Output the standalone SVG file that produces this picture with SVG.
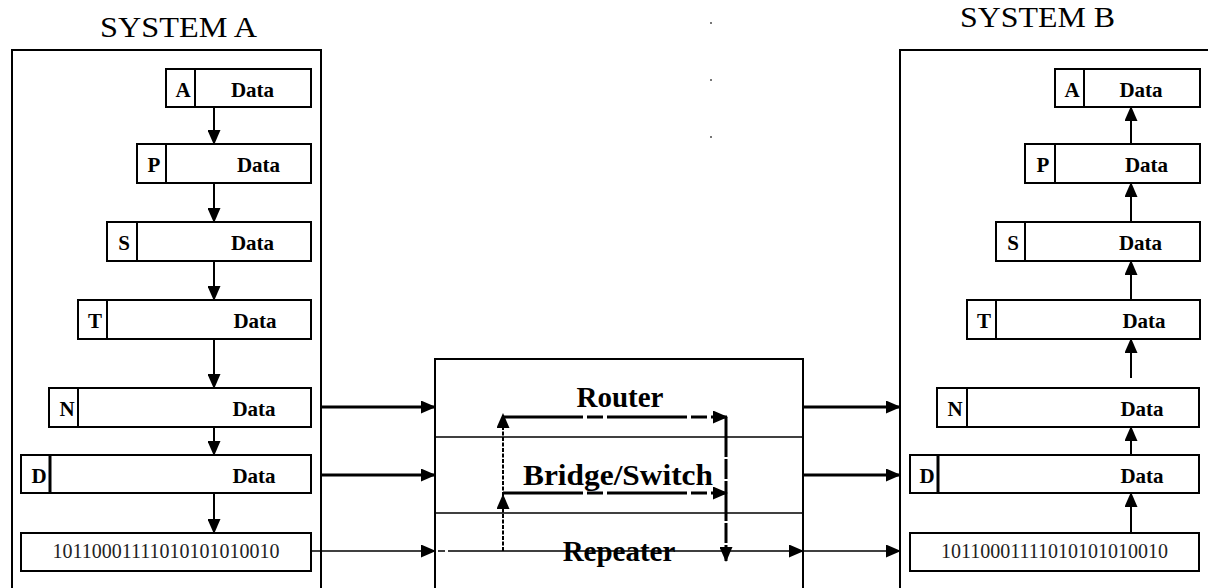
<svg xmlns="http://www.w3.org/2000/svg" width="1208" height="588" viewBox="0 0 1208 588">
<defs>
<marker id="ah" markerUnits="userSpaceOnUse" markerWidth="15" markerHeight="13" refX="14" refY="6.5" orient="auto"><path d="M0,0 L15,6.5 L0,13 z" fill="#000"/></marker>
<style>
.frame{fill:none;stroke:#000;stroke-width:2}
.box{fill:#fff;stroke:#000;stroke-width:2}
.div{stroke:#000;stroke-width:2}
.lbl{font-family:"Liberation Serif","Times New Roman",serif;font-weight:bold;font-size:21px;text-anchor:middle;fill:#000}
.bits{font-family:"Liberation Serif","Times New Roman",serif;font-size:20px;text-anchor:middle;fill:#222}
.title{font-family:"Liberation Serif","Times New Roman",serif;font-size:30px;text-anchor:middle;fill:#000}
.dev{font-family:"Liberation Serif","Times New Roman",serif;font-weight:bold;font-size:29px;text-anchor:middle;fill:#000}
.arr{stroke:#000;stroke-width:2;fill:none;marker-end:url(#ah)}
.thick{stroke:#000;stroke-width:3;fill:none;marker-end:url(#ah)}
.thin{stroke:#000;stroke-width:1.5;fill:none;marker-end:url(#ah)}
.dash{stroke:#000;stroke-width:3;fill:none;marker-end:url(#ah);stroke-dasharray:80 4 16 4}
.dot{stroke:#000;stroke-width:2;fill:none;marker-end:url(#ah);stroke-dasharray:4 1.5}
.vd{stroke:#000;stroke-width:3;fill:none;marker-end:url(#ah);stroke-dasharray:40 2 20 2}
</style>
</defs>
<rect width="1208" height="588" fill="#fff"/>

<g id="dots" fill="#777">
<rect x="710" y="22" width="2" height="2"/>
<rect x="710" y="79" width="2" height="2"/>
<rect x="710" y="136" width="2" height="2"/>
</g>

<g id="systemA">
<text class="title" x="178.5" y="37" textLength="157" lengthAdjust="spacingAndGlyphs">SYSTEM A</text>
<rect class="frame" x="12" y="50" width="309" height="560"/>
</g>
<g id="a-A"><rect class="box" x="166" y="69" width="145" height="38"/><line class="div" x1="195" y1="69" x2="195" y2="107"/><text class="lbl" x="183" y="97">A</text><text class="lbl" x="252.5" y="97">Data</text></g>
<g id="a-P"><rect class="box" x="137" y="144" width="174" height="39"/><line class="div" x1="166" y1="144" x2="166" y2="183"/><text class="lbl" x="154" y="172">P</text><text class="lbl" x="258.5" y="172">Data</text></g>
<g id="a-S"><rect class="box" x="107" y="222" width="204" height="39"/><line class="div" x1="137" y1="222" x2="137" y2="261"/><text class="lbl" x="124" y="250">S</text><text class="lbl" x="252.5" y="250">Data</text></g>
<g id="a-T"><rect class="box" x="78" y="300" width="233" height="39"/><line class="div" x1="107" y1="300" x2="107" y2="339"/><text class="lbl" x="95" y="328">T</text><text class="lbl" x="255" y="328">Data</text></g>
<g id="a-N"><rect class="box" x="49" y="388" width="262" height="39"/><line class="div" x1="78" y1="388" x2="78" y2="427"/><text class="lbl" x="67" y="416">N</text><text class="lbl" x="254" y="416">Data</text></g>
<g id="a-D"><rect class="box" x="21" y="455" width="290" height="38"/><line class="div" x1="50" y1="455" x2="50" y2="493" style="stroke-width:3"/><text class="lbl" x="39" y="483">D</text><text class="lbl" x="254" y="483">Data</text></g>
<g id="a-bits"><rect class="box" x="21" y="533" width="290" height="38"/><text class="bits" x="166" y="558">10110001111010101010010</text></g>

<g id="systemB">
<text class="title" x="1037.5" y="27" textLength="155" lengthAdjust="spacingAndGlyphs">SYSTEM B</text>
<rect class="frame" x="900" y="50" width="330" height="560"/>
</g>
<g id="b-A"><rect class="box" x="1055" y="69" width="145" height="38"/><line class="div" x1="1084" y1="69" x2="1084" y2="107"/><text class="lbl" x="1072" y="97">A</text><text class="lbl" x="1141" y="97">Data</text></g>
<g id="b-P"><rect class="box" x="1025" y="144" width="175" height="39"/><line class="div" x1="1055" y1="144" x2="1055" y2="183"/><text class="lbl" x="1043" y="172">P</text><text class="lbl" x="1146.5" y="172">Data</text></g>
<g id="b-S"><rect class="box" x="996" y="222" width="204" height="39"/><line class="div" x1="1025" y1="222" x2="1025" y2="261"/><text class="lbl" x="1013" y="250">S</text><text class="lbl" x="1140.5" y="250">Data</text></g>
<g id="b-T"><rect class="box" x="967" y="300" width="233" height="39"/><line class="div" x1="996" y1="300" x2="996" y2="339"/><text class="lbl" x="984" y="328">T</text><text class="lbl" x="1144" y="328">Data</text></g>
<g id="b-N"><rect class="box" x="937" y="388" width="262" height="39"/><line class="div" x1="967" y1="388" x2="967" y2="427"/><text class="lbl" x="955" y="416">N</text><text class="lbl" x="1142" y="416">Data</text></g>
<g id="b-D"><rect class="box" x="910" y="455" width="289" height="38"/><line class="div" x1="938" y1="455" x2="938" y2="493" style="stroke-width:3"/><text class="lbl" x="927" y="483">D</text><text class="lbl" x="1142" y="483">Data</text></g>
<g id="b-bits"><rect class="box" x="910" y="533" width="289" height="38"/><text class="bits" x="1054.5" y="558">10110001111010101010010</text></g>

<g id="network">
<rect class="frame" x="435" y="359" width="368" height="260"/>
<line x1="435" y1="437" x2="803" y2="437" stroke="#000" stroke-width="1.5"/>
<line x1="435" y1="513" x2="803" y2="513" stroke="#000" stroke-width="1.5"/>
</g>

<g id="connectors">
<line class="arr" x1="214" y1="107" x2="214" y2="144"/>
<line class="arr" x1="214" y1="183" x2="214" y2="222"/>
<line class="arr" x1="214" y1="261" x2="214" y2="300"/>
<line class="arr" x1="214" y1="339" x2="214" y2="388"/>
<line class="arr" x1="214" y1="427" x2="214" y2="455"/>
<line class="arr" x1="214" y1="493" x2="214" y2="533"/>

<line class="arr" x1="1131" y1="144" x2="1131" y2="107"/>
<line class="arr" x1="1131" y1="222" x2="1131" y2="183"/>
<line class="arr" x1="1131" y1="300" x2="1131" y2="261"/>
<line class="arr" x1="1131" y1="378" x2="1131" y2="339"/>
<line class="arr" x1="1131" y1="455" x2="1131" y2="427"/>
<line class="arr" x1="1131" y1="533" x2="1131" y2="493"/>

<line class="thick" x1="321" y1="407" x2="435" y2="407"/>
<line class="thick" x1="321" y1="475" x2="435" y2="475"/>
<line class="thin" x1="311" y1="551" x2="435" y2="551"/>
<line class="thick" x1="803" y1="407" x2="900" y2="407"/>
<line class="thick" x1="803" y1="475" x2="900" y2="475"/>
<line class="thin" x1="435" y1="551" x2="803" y2="551" style="stroke-dasharray:0 3 7 3 600"/>
<line class="thin" x1="803" y1="551" x2="900" y2="551"/>

<line class="dot" x1="503" y1="551" x2="503" y2="495"/>
<line class="dot" x1="503" y1="507" x2="503" y2="414"/>
<line class="dash" x1="503" y1="417" x2="727" y2="417"/>
<line class="dash" x1="503" y1="493" x2="727" y2="493"/>
<line class="vd" x1="726" y1="417" x2="726" y2="561"/>
</g>

<g id="labels">
<text class="dev" x="620" y="407">Router</text>
<text class="dev" x="618" y="485" textLength="190" lengthAdjust="spacingAndGlyphs">Bridge/Switch</text>
<text class="dev" x="619" y="561">Repeater</text>
</g>
</svg>
